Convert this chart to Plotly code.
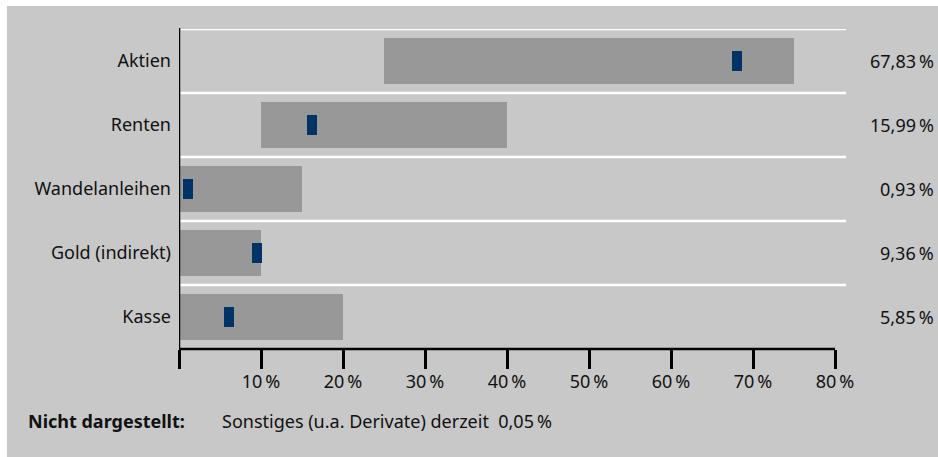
import plotly.graph_objects as go

categories = ["Aktien", "Renten", "Wandelanleihen", "Gold (indirekt)", "Kasse"]
range_min = [25, 10, 0, 0, 0]
range_max = [75, 40, 15, 10, 20]
current = [67.83, 15.99, 0.93, 9.36, 5.85]
value_labels = ["67,83\u202f%", "15,99\u202f%", "0,93\u202f%", "9,36\u202f%", "5,85\u202f%"]
tick_vals = [0, 10, 20, 30, 40, 50, 60, 70, 80]
tick_text = ["", "10\u202f%", "20\u202f%", "30\u202f%", "40\u202f%", "50\u202f%", "60\u202f%", "70\u202f%", "80\u202f%"]
footer_label = "Nicht dargestellt:"
footer_text = "Sonstiges (u.a. Derivate) derzeit  0,05\u202f%"

BG = "#c8c8c8"
BAR = "#989898"
MARK = "#003366"
FONT = "Noto Sans"
FS = 18
TXT = "#111111"

W, H = 938, 457
L, R, T, B = 179, 92, 29, 108
PW, PH = W - L - R, H - T - B

idx = list(range(len(categories)))
fig = go.Figure()
fig.add_trace(go.Bar(
    y=idx, x=[b - a for a, b in zip(range_min, range_max)], base=range_min,
    orientation="h", width=0.72, marker=dict(color=BAR, line=dict(width=0)),
    hoverinfo="skip", showlegend=False))
mw = 1.2
fig.add_trace(go.Bar(
    y=idx, x=[mw] * len(current), base=[c - mw / 2 + 0.2 for c in current],
    orientation="h", width=0.3, marker=dict(color=MARK, line=dict(width=0)),
    hoverinfo="skip", showlegend=False))

xmax = 81.34
shapes = []
shapes.append(dict(type="rect", xref="paper", yref="paper",
                   x0=(7 - L) / PW, x1=(W + 5 - L) / PW,
                   y0=(H - B - (H + 5)) / PH, y1=(H - B - 6) / PH,
                   fillcolor=BG, line=dict(width=0), layer="below"))
for i in idx:
    shapes.append(dict(type="line", xref="x", yref="y", x0=0.2, x1=xmax,
                       y0=i - 0.5, y1=i - 0.5, line=dict(color="white", width=2.5), layer="above"))
shapes.append(dict(type="line", xref="x", yref="paper", x0=0, x1=80, y0=0, y1=0,
                   line=dict(color="black", width=2.5), layer="above"))
shapes.append(dict(type="line", xref="x", yref="paper", x0=0, x1=0, y0=0, y1=1.003,
                   line=dict(color="black", width=2.5), layer="above"))

annotations = []
for i, t in zip(idx, value_labels):
    annotations.append(dict(xref="paper", yref="y", x=1, y=i, xshift=90, text=t,
                            showarrow=False, xanchor="right", yanchor="middle",
                            font=dict(family=FONT, size=FS, color=TXT)))
fy = (H - B - 421) / PH
annotations.append(dict(xref="paper", yref="paper", x=(26 - L) / PW, y=fy,
                        text="<b>" + footer_label + "</b>", showarrow=False,
                        xanchor="left", yanchor="middle",
                        font=dict(family=FONT, size=FS, color=TXT)))
annotations.append(dict(xref="paper", yref="paper", x=(220 - L) / PW, y=fy,
                        text=footer_text, showarrow=False,
                        xanchor="left", yanchor="middle",
                        font=dict(family=FONT, size=FS, color=TXT)))

fig.update_layout(
    width=W, height=H,
    margin=dict(l=L, r=R, t=T, b=B, pad=0),
    paper_bgcolor="white", plot_bgcolor=BG,
    barmode="overlay", bargap=0,
    font=dict(family=FONT, size=FS, color=TXT),
    shapes=shapes, annotations=annotations,
    xaxis=dict(range=[0, xmax], tickvals=tick_vals, ticktext=tick_text,
               ticks="outside", ticklen=19, tickwidth=2.5, tickcolor="black",
               ticklabelstandoff=-3,
               showgrid=False, zeroline=False, showline=False, fixedrange=True,
               tickfont=dict(family=FONT, size=FS, color=TXT)),
    yaxis=dict(range=[4.5, -0.5], tickvals=idx, ticktext=categories,
               ticks="", ticklabelstandoff=7, showgrid=False, zeroline=False,
               showline=False, fixedrange=True,
               tickfont=dict(family=FONT, size=FS, color=TXT)),
)
fig.write_html("out.html", config={"displayModeBar": False},
               post_script="document.body.style.margin='0px';document.body.style.overflow='hidden';")
